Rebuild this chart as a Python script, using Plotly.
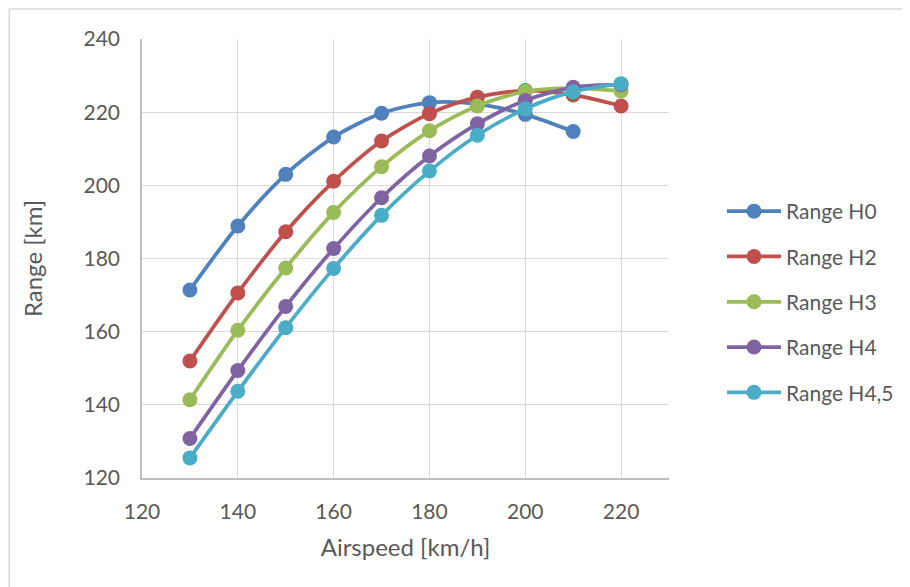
import plotly.graph_objects as go

airspeed = [130, 140, 150, 160, 170, 180, 190, 200, 210, 220]

range_h0 = [171.4, 188.9, 203.0, 213.2, 219.7, 222.6, 222.2, 219.4, 214.7]
range_h2 = [152.0, 170.6, 187.3, 201.1, 212.1, 219.6, 224.1, 225.9, 224.7, 221.7]
range_h3 = [141.4, 160.4, 177.4, 192.6, 205.1, 214.9, 221.7, 225.7, 226.6, 225.8]
range_h4 = [130.8, 149.4, 166.9, 182.7, 196.6, 208.0, 216.8, 223.2, 226.8, 227.5]
range_h45 = [125.5, 143.7, 161.1, 177.3, 191.8, 203.9, 213.7, 220.9, 225.6, 227.8]

series_names = ["Range H0", "Range H2", "Range H3", "Range H4", "Range H4,5"]
series_values = [range_h0, range_h2, range_h3, range_h4, range_h45]
colors = ["#4F81BD", "#C0504D", "#9BBB59", "#8064A2", "#4BACC6"]

x_ticks = [120, 140, 160, 180, 200, 220]
y_ticks = [120, 140, 160, 180, 200, 220, 240]

# page has an 8px body margin: work in screen coords, shift by OFF
OFF = 8
W, H = 910 - OFF, 587 - OFF
L, T, R, B = 142 - OFF, 39 - OFF, 670 - OFF, 478 - OFF

fig = go.Figure()
for name, vals, col in zip(series_names, series_values, colors):
    fig.add_trace(go.Scatter(
        x=airspeed[:len(vals)], y=vals, name=name,
        mode="lines+markers", line=dict(color=col, width=3.75, shape="spline", smoothing=0.8),
        marker=dict(color=col, size=15), legendgroup=name,
    ))

font = dict(family="Lato, 'Open Sans', sans-serif", color="#595959")
fig.update_layout(
    width=W, height=H,
    margin=dict(l=L, t=T, r=W - R, b=H - B, pad=0),
    paper_bgcolor="white", plot_bgcolor="white",
    font=dict(size=21, **font),
    showlegend=True,
    legend=dict(x=(722 - OFF - L) / (R - L), y=(B - (191 - OFF)) / (B - T), xanchor="left", yanchor="top",
                font=dict(size=21, **font), tracegroupgap=15, itemwidth=54,
                bgcolor="rgba(0,0,0,0)"),
    xaxis=dict(range=[120, 230], tickvals=x_ticks, showgrid=True, gridcolor="#D9D9D9", gridwidth=1.4,
               showline=True, linecolor="#BFBFBF", linewidth=1.5, zeroline=False, ticks="",
               tickfont=dict(size=21, **font), ticklabelstandoff=14, automargin=False,
               title=dict(text="Airspeed [km/h]", font=dict(size=24, **font), standoff=17)),
    yaxis=dict(range=[120, 240], tickvals=y_ticks, showgrid=True, gridcolor="#D9D9D9", gridwidth=1.4,
               showline=True, linecolor="#BFBFBF", linewidth=1.5, zeroline=False, ticks="",
               tickfont=dict(size=21, **font), ticklabelstandoff=16, automargin=False,
               title=dict(text="Range [km]", font=dict(size=24, **font), standoff=34)),
)

# outer chart border
fig.add_shape(type="rect", xref="paper", yref="paper",
              x0=(9 - OFF - L) / (R - L), x1=(940 - L) / (R - L),
              y0=(B - 620) / (B - T), y1=(B - (9 - OFF)) / (B - T),
              line=dict(color="#D9D9D9", width=1.5), layer="below")

fig.write_html("out.html")
